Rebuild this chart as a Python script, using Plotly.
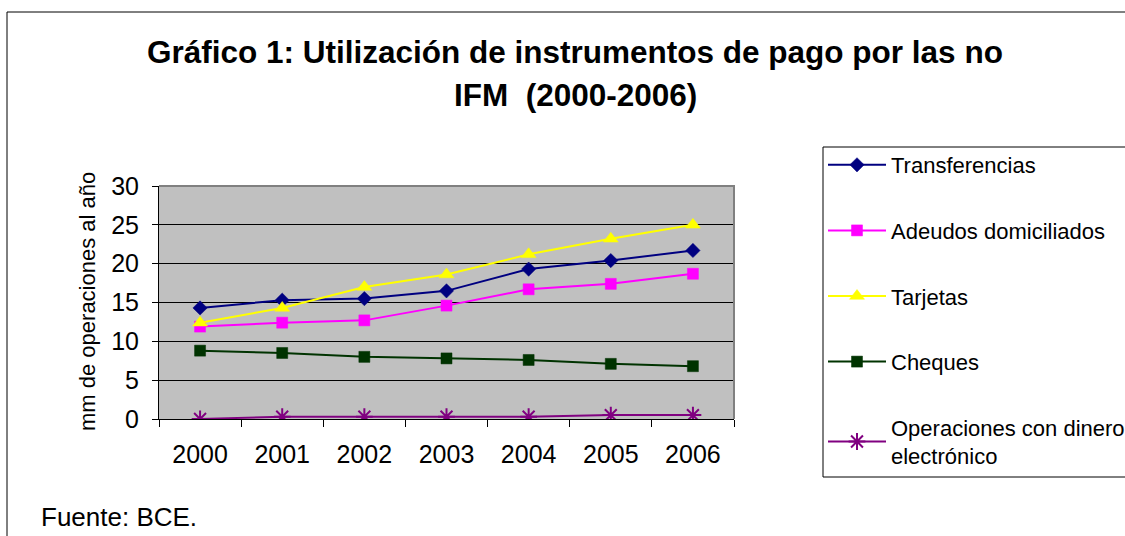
import plotly.graph_objects as go

years = ["2000", "2001", "2002", "2003", "2004", "2005", "2006"]
transferencias = [14.3, 15.3, 15.5, 16.5, 19.3, 20.4, 21.7]
adeudos = [11.9, 12.4, 12.7, 14.6, 16.7, 17.4, 18.7]
tarjetas = [12.4, 14.3, 17.0, 18.6, 21.2, 23.2, 25.0]
cheques = [8.8, 8.5, 8.0, 7.8, 7.6, 7.1, 6.8]
dinero_e = [0.0, 0.3, 0.3, 0.3, 0.3, 0.5, 0.5]

names = ["Transferencias", "Adeudos domiciliados", "Tarjetas", "Cheques",
         "Operaciones con dinero<br>electrónico"]
series = [transferencias, adeudos, tarjetas, cheques, dinero_e]
colors = ["#000080", "#FF00FF", "#FFFF00", "#003300", "#800080"]
symbols = ["diamond", "square", "triangle-up", "square", "asterisk-open"]
msizes = [11, 11, 13, 11, 14]

W, H = 1125, 536
L, R, T, B = 159, 734, 186, 419  # plot area in pixels
PW, PH = R - L, B - T

def px(x):
    return (x - L) / PW

def py(y):
    return (B - y) / PH

FONT = "Arial, Liberation Sans, sans-serif"

fig = go.Figure()
for i, (nm, vals) in enumerate(zip(names, series)):
    fig.add_trace(go.Scatter(
        x=years, y=vals, name=nm, mode="lines+markers",
        legendgroup=f"g{i}",
        line=dict(color=colors[i], width=2),
        marker=dict(symbol=symbols[i], size=msizes[i], color=colors[i],
                    line=dict(color=colors[i], width=2 if i == 4 else 0.5)),
    ))

fig.update_layout(
    width=W, height=H, autosize=False,
    margin=dict(l=L, r=W - R, t=T, b=H - B, autoexpand=False),
    paper_bgcolor="white",
    plot_bgcolor="#C0C0C0",
    font=dict(family=FONT, color="black"),
    showlegend=True,
    legend=dict(
        x=px(823), y=py(144), xanchor="left", yanchor="top",
        xref="paper", yref="paper",
        font=dict(size=22, family=FONT),
        tracegroupgap=34, bgcolor="rgba(0,0,0,0)", borderwidth=0,
        itemwidth=58, maxheight=520,
    ),
)

fig.update_xaxes(
    type="category", tickson="boundaries", showgrid=False,
    ticks="outside", ticklen=7, tickcolor="black", tickwidth=1,
    showline=True, linecolor="black", linewidth=1,
    tickfont=dict(size=25, family=FONT), ticklabelstandoff=13,
    range=[-0.5, 6.5], fixedrange=True,
)
fig.update_yaxes(
    range=[0, 30], tickvals=[0, 5, 10, 15, 20, 25, 30],
    showgrid=True, gridcolor="black", gridwidth=1,
    ticks="outside", ticklen=6, tickcolor="black", tickwidth=1,
    showline=True, linecolor="black", linewidth=1,
    tickfont=dict(size=25, family=FONT), ticklabelstandoff=8,
    zeroline=False, fixedrange=True,
)

shapes = [
    # gray border top/right of plot area
    dict(type="path", xref="paper", yref="paper",
         path="M0,1 L1,1 L1,0", line=dict(color="#808080", width=2), layer="above"),
    # outer frame
    dict(type="rect", xref="paper", yref="paper",
         x0=px(7), y0=py(12), x1=px(1135), y1=py(550),
         line=dict(color="black", width=1), fillcolor="rgba(0,0,0,0)"),
    # legend frame
    dict(type="rect", xref="paper", yref="paper",
         x0=px(823), y0=py(147), x1=px(1135), y1=py(477),
         line=dict(color="black", width=1), fillcolor="rgba(0,0,0,0)"),
]
fig.update_layout(shapes=shapes)

annotations = [
    dict(text="<b>Gráfico 1: Utilización de instrumentos de pago por las no</b>",
         x=px(575), y=py(52), xref="paper", yref="paper",
         xanchor="center", yanchor="middle", showarrow=False,
         font=dict(size=31.5, family=FONT)),
    dict(text="<b>IFM\u00a0 (2000-2006)</b>",
         x=px(575), y=py(95), xref="paper", yref="paper",
         xanchor="center", yanchor="middle", showarrow=False,
         font=dict(size=31.5, family=FONT)),
    dict(text="mm de operaciones al año",
         x=px(87), y=py(302), xref="paper", yref="paper",
         xanchor="center", yanchor="middle", showarrow=False, textangle=-90,
         font=dict(size=22, family=FONT)),
    dict(text="Fuente: BCE.",
         x=px(39), y=py(517), xref="paper", yref="paper",
         xanchor="left", yanchor="middle", showarrow=False,
         font=dict(size=26, family=FONT)),
]
fig.update_layout(annotations=annotations)

fig.write_html(
    "out.html",
    config={"responsive": False, "displayModeBar": False},
    post_script="document.body.style.margin='0';document.body.style.overflow='hidden';",
)
